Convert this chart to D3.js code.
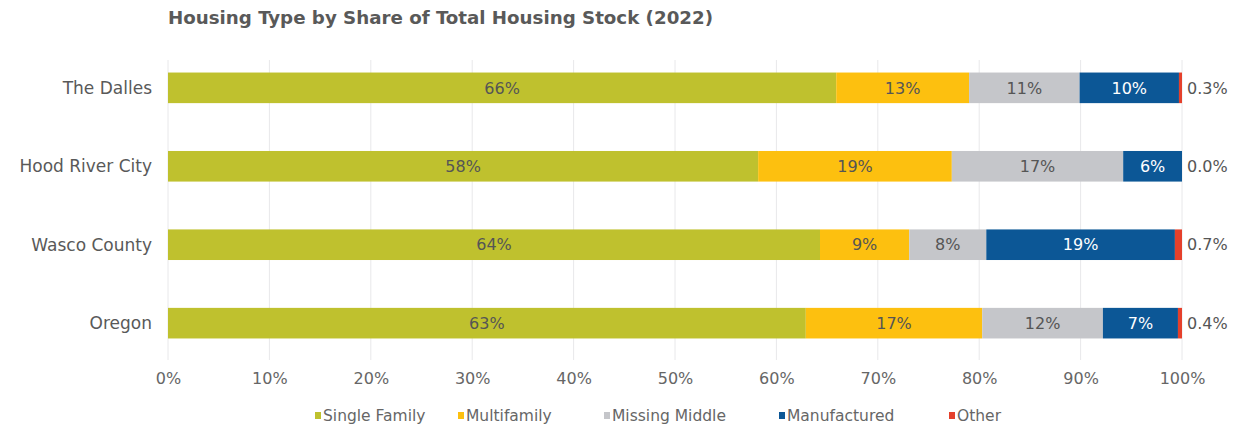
<!DOCTYPE html>
<html>
<head>
<meta charset="utf-8">
<script src="https://cdn.jsdelivr.net/npm/d3@7"></script>
<style>
  body { margin: 0; background: #fff; }
  svg text { font-family: "DejaVu Sans", sans-serif; }
</style>
</head>
<body>
<svg id="chart" width="1243" height="430"></svg>
<script>
const places = ["The Dalles", "Hood River City", "Wasco County", "Oregon"];
const housingTypes = ["Single Family", "Multifamily", "Missing Middle", "Manufactured", "Other"];
const singleFamily = [65.9, 58.2, 64.3, 62.9];
const multifamily = [13.1, 19.1, 8.8, 17.4];
const missingMiddle = [10.9, 16.9, 7.6, 11.9];
const manufactured = [9.8, 5.8, 18.6, 7.4];
const other = [0.3, 0.0, 0.7, 0.4];
const xTicks = [0, 10, 20, 30, 40, 50, 60, 70, 80, 90, 100];

const colors = ["#bfc12e", "#fdc00f", "#c5c6ca", "#0c5796", "#e5402b"];
const labelColors = ["#555", "#555", "#555", "#fff", "#555"];

const rows = places.map((p, i) => ({
  place: p,
  "Single Family": singleFamily[i],
  "Multifamily": multifamily[i],
  "Missing Middle": missingMiddle[i],
  "Manufactured": manufactured[i],
  "Other": other[i]
}));

const margin = { top: 60, right: 61, bottom: 70, left: 168 };
const width = 1243, height = 430;

const svg = d3.select("#chart");

const x = d3.scaleLinear().domain([0, 100]).range([margin.left, width - margin.right]);
const y = d3.scaleBand().domain(places).range([49, 362]).paddingInner(0.61).paddingOuter(0.3);

// title
svg.append("text")
  .attr("x", 168).attr("y", 24)
  .attr("fill", "#595959")
  .attr("font-size", 17).attr("font-weight", "bold")
  .style("font-stretch", "condensed")
  .attr("textLength", 545).attr("lengthAdjust", "spacingAndGlyphs")
  .text("Housing Type by Share of Total Housing Stock (2022)");

// gridlines
svg.append("g")
  .selectAll("line")
  .data(xTicks)
  .join("line")
  .attr("x1", d => x(d)).attr("x2", d => x(d))
  .attr("y1", 60).attr("y2", 360)
  .attr("stroke", "#e8e8ea").attr("stroke-width", 1);

// x axis
const xAxis = svg.append("g")
  .attr("transform", "translate(0,360)")
  .call(d3.axisBottom(x).tickValues(xTicks).tickFormat(d => d + "%").tickSize(0).tickPadding(13));
xAxis.select(".domain").remove();
xAxis.selectAll("text").attr("font-size", 16).attr("fill", "#666").attr("font-family", "DejaVu Sans");

// y labels
svg.append("g")
  .selectAll("text")
  .data(places)
  .join("text")
  .attr("x", 152)
  .attr("y", d => y(d) + y.bandwidth() / 2)
  .attr("dy", "0.35em")
  .attr("text-anchor", "end")
  .attr("font-size", 17).attr("fill", "#595959")
  .text(d => d);

// stacked bars
const series = d3.stack().keys(housingTypes)(rows);

const groups = svg.append("g")
  .selectAll("g")
  .data(series)
  .join("g")
  .attr("fill", (d, i) => colors[i]);

groups.selectAll("rect")
  .data(d => d)
  .join("rect")
  .attr("x", d => x(d[0]))
  .attr("y", d => y(d.data.place))
  .attr("width", d => x(d[1]) - x(d[0]))
  .attr("height", y.bandwidth());

// labels inside segments
series.slice(0, 4).forEach((s, k) => {
  svg.append("g")
    .selectAll("text")
    .data(s)
    .join("text")
    .attr("x", d => (x(d[0]) + x(d[1])) / 2)
    .attr("y", d => y(d.data.place) + y.bandwidth() / 2)
    .attr("dy", "0.36em")
    .attr("text-anchor", "middle")
    .attr("font-size", 16)
    .attr("fill", labelColors[k])
    .text(d => Math.round(d[1] - d[0]) + "%");
});

// "Other" labels outside the bar
svg.append("g")
  .selectAll("text")
  .data(series[4])
  .join("text")
  .attr("x", x(100) + 5)
  .attr("y", d => y(d.data.place) + y.bandwidth() / 2)
  .attr("dy", "0.36em")
  .attr("font-size", 16)
  .attr("fill", "#555")
  .text(d => (d[1] - d[0]).toFixed(1) + "%");

// legend
const legendX = [315, 458, 604, 779, 949];
const legend = svg.append("g")
  .selectAll("g")
  .data(housingTypes)
  .join("g")
  .attr("transform", (d, i) => `translate(${legendX[i]},416)`);
legend.append("rect")
  .attr("x", 0).attr("y", -4)
  .attr("width", 6).attr("height", 7)
  .attr("fill", (d, i) => colors[i]);
legend.append("text")
  .attr("x", 8).attr("y", 0).attr("dy", "0.35em")
  .attr("font-size", 15.5).attr("fill", "#666")
  .text(d => d);
</script>
</body>
</html>
